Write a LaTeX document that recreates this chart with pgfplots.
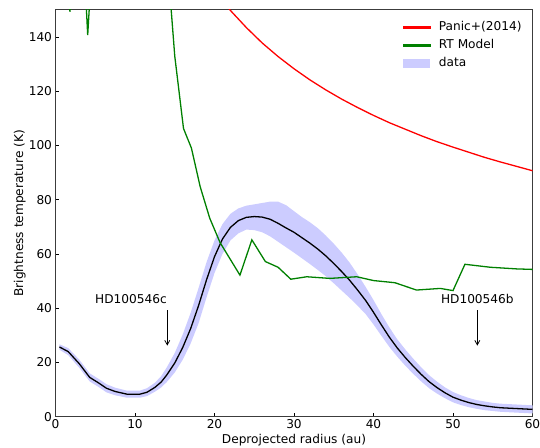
\documentclass[border=0pt]{standalone}
\usepackage{fontspec}
\setmainfont{DejaVu Sans}
\usepackage{pgfplots}
\pgfplotsset{compat=1.18}
\usepgfplotslibrary{fillbetween}
\usetikzlibrary{arrows.meta}
\definecolor{bandc}{RGB}{204,204,255}
\definecolor{mgreen}{RGB}{0,128,0}
\definecolor{axgray}{RGB}{60,60,60}
\newcommand{\fs}{\fontsize{12.2}{14}\selectfont}
\begin{document}
\begin{tikzpicture}
\begin{axis}[
  at={(0,0)}, anchor=south west,
  scale only axis, width=477bp, height=406.8bp,
  xmin=0, xmax=60, ymin=0, ymax=150,
  xtick={0,10,...,60}, ytick={0,20,...,140},
  tick align=inside, xtick pos=left, ytick pos=left,
  major tick length=3.5bp,
  every tick/.style={black, line width=0.8pt},
  axis line style={axgray, line width=0.8pt},
  /pgf/number format/assume math mode=true,
  tick label style={font=\fs},
  xticklabel style={yshift=1bp},
  xlabel={Deprojected radius (au)},
  ylabel={Brightness temperature (K)},
  every axis x label/.style={at={(axis description cs:0.5,-0.0671)}, anchor=base, font=\fs},
  every axis y label/.style={at={(axis description cs:-0.0681,0.5)}, anchor=base, rotate=90, font=\fs},
  legend style={at={(axis description cs:1,1)}, anchor=north east, draw=none, fill=none,
    xshift=-9.8bp, yshift=-10.2bp, inner sep=0pt, row sep=4bp, column sep=7bp,
    font=\fs,
    nodes={inner sep=1bp, text height=9bp, text depth=3bp}},
  legend cell align=left,
  reverse legend,
]
% data band
\addplot[name path=up, draw=none, forget plot] coordinates {
(0.5,26.7)(1.6,25.3)(3,21.0)(4.3,16.0)(5.5,13.8)(6.4,12.0)(7.5,10.7)(9,9.6)(10.6,9.6)
(11.5,10.5)(12.5,12.5)(13.3,15.0)(14,18.2)(15,23.5)(16,30.3)(17,38.3)(18,47.5)(19,57.0)
(20,65.0)(21,71.0)(22,74.8)(23,76.8)(24,77.8)(25,78.3)(26,78.8)(27,79.3)(28,79.3)(29,78.0)
(30,75.8)(31,73.6)(32,71.7)(33,69.5)(34,66.8)(35,63.8)(36,60.5)(37,56.8)(38,52.5)(39,47.9)
(40,43.0)(41,37.8)(42,32.9)(43,28.5)(44,24.8)(45,21.4)(46,18.2)(47,15.3)(48,12.9)(49,10.8)
(50,9.1)(51,7.9)(52,6.9)(53,6.1)(54,5.6)(55,5.1)(56,4.8)(58,4.5)(60,4.2)};
\addplot[name path=lo, draw=none, forget plot] coordinates {
(0.5,24.7)(1.6,22.7)(3,18.0)(4.3,13.0)(5.5,10.8)(6.4,9.0)(7.5,7.9)(9,7.0)(10.6,7.0)
(11.5,7.6)(12.5,9.2)(13.3,10.8)(14,12.8)(15,16.3)(16,21.0)(17,27.0)(18,34.5)(19,44.0)
(20,53.0)(21,60.0)(22,65.0)(23,67.6)(24,69.0)(25,68.8)(26,68.0)(27,66.5)(28,64.5)(29,62.5)
(30,60.5)(31,58.4)(32,56.3)(33,54.1)(34,51.8)(35,49.2)(36,46.5)(37,43.8)(38,40.9)(39,37.9)
(40,34.0)(41,29.8)(42,25.7)(43,22.1)(44,18.8)(45,15.8)(46,13.0)(47,10.5)(48,8.5)(49,6.8)
(50,5.3)(51,4.3)(52,3.5)(53,2.9)(54,2.4)(55,2.1)(56,1.8)(58,1.5)(60,1.2)};
\addplot[fill=bandc, draw=none,
  legend image code/.code={\fill[bandc] (0bp,-4.5bp) rectangle (27bp,4.5bp);}]
  fill between[of=up and lo];
\addlegendentry{data}

% data mean
\addplot[black, line width=1.3pt, forget plot] coordinates {
(0.5,25.7)(1.6,24.0)(3,19.5)(4.3,14.5)(5.5,12.3)(6.4,10.5)(7.5,9.3)(9,8.3)(10.6,8.3)
(11.5,9.0)(12.5,10.8)(13.3,12.8)(14,15.4)(15,19.8)(16,25.5)(17,32.5)(18,41.0)(19,50.5)
(20,59.0)(21,65.5)(22,69.8)(23,72.3)(24,73.5)(25,73.8)(26,73.6)(27,72.8)(28,71.3)(29,69.6)
(30,68.0)(31,66.0)(32,64.0)(33,61.8)(34,59.3)(35,56.5)(36,53.5)(37,50.3)(38,46.7)(39,42.9)
(40,38.5)(41,33.8)(42,29.3)(43,25.3)(44,21.8)(45,18.6)(46,15.6)(47,12.9)(48,10.7)(49,8.8)
(50,7.2)(51,6.1)(52,5.2)(53,4.5)(54,4.0)(55,3.6)(56,3.3)(58,3.0)(60,2.7)};

% RT model
\addplot[mgreen, line width=1.3pt,
  legend image code/.code={\fill[mgreen] (0bp,-0.65bp) rectangle (27bp,0.65bp);}] coordinates {
(0.6,200)(1.82,149.3)(2.95,205)(4.05,140.7)(5.15,195)(6.3,230)(8,250)(10,250)(12,230)
(13.5,190)(15.0,133)(16.1,106.3)(17.1,99)(18.2,84.8)(19.4,73.2)(20.7,64.2)(23.2,52.2)
(24.7,65.2)(26.4,57.2)(28.0,55.1)(29.6,50.7)(31.6,51.6)(34.5,51.0)(37.9,51.6)(40.0,50.2)
(42.7,49.4)(45.4,46.7)(48.4,47.3)(50.0,46.5)(51.5,56.2)(54.7,55.1)(58.0,54.5)(60.1,54.3)};
\addlegendentry{RT Model}

% Panic+(2014)
\addplot[red, line width=1.3pt,
  legend image code/.code={\fill[red] (0bp,-0.65bp) rectangle (27bp,0.65bp);}] coordinates {
(21.5,151.6)(22,149.8)(24,143.5)(26,137.8)(28,132.8)(30,128.3)(32,124.2)(34,120.5)
(36,117.1)(38,114.0)(40,111.1)(42,108.4)(44,106.0)(46,103.6)(48,101.4)(50,99.4)
(52,97.5)(54,95.6)(56,93.9)(58,92.3)(60,90.7)};
\addlegendentry{Panic+(2014)}

\draw[-{Straight Barb[length=4.5bp,width=5bp]}, line width=0.8pt] (axis cs:14.06,39.3) -- (axis cs:14.06,26.2);
\draw[-{Straight Barb[length=4.5bp,width=5bp]}, line width=0.8pt] (axis cs:53.06,39.3) -- (axis cs:53.06,26.2);
\node[font=\fs] at (axis cs:9.5,43.4) {HD100546c};
\node[font=\fs] at (axis cs:53.06,43.4) {HD100546b};
\end{axis}
\pgfresetboundingbox
\path (-55.5bp,-31.3bp) rectangle (484.5bp,416.7bp);
\end{tikzpicture}
\end{document}
